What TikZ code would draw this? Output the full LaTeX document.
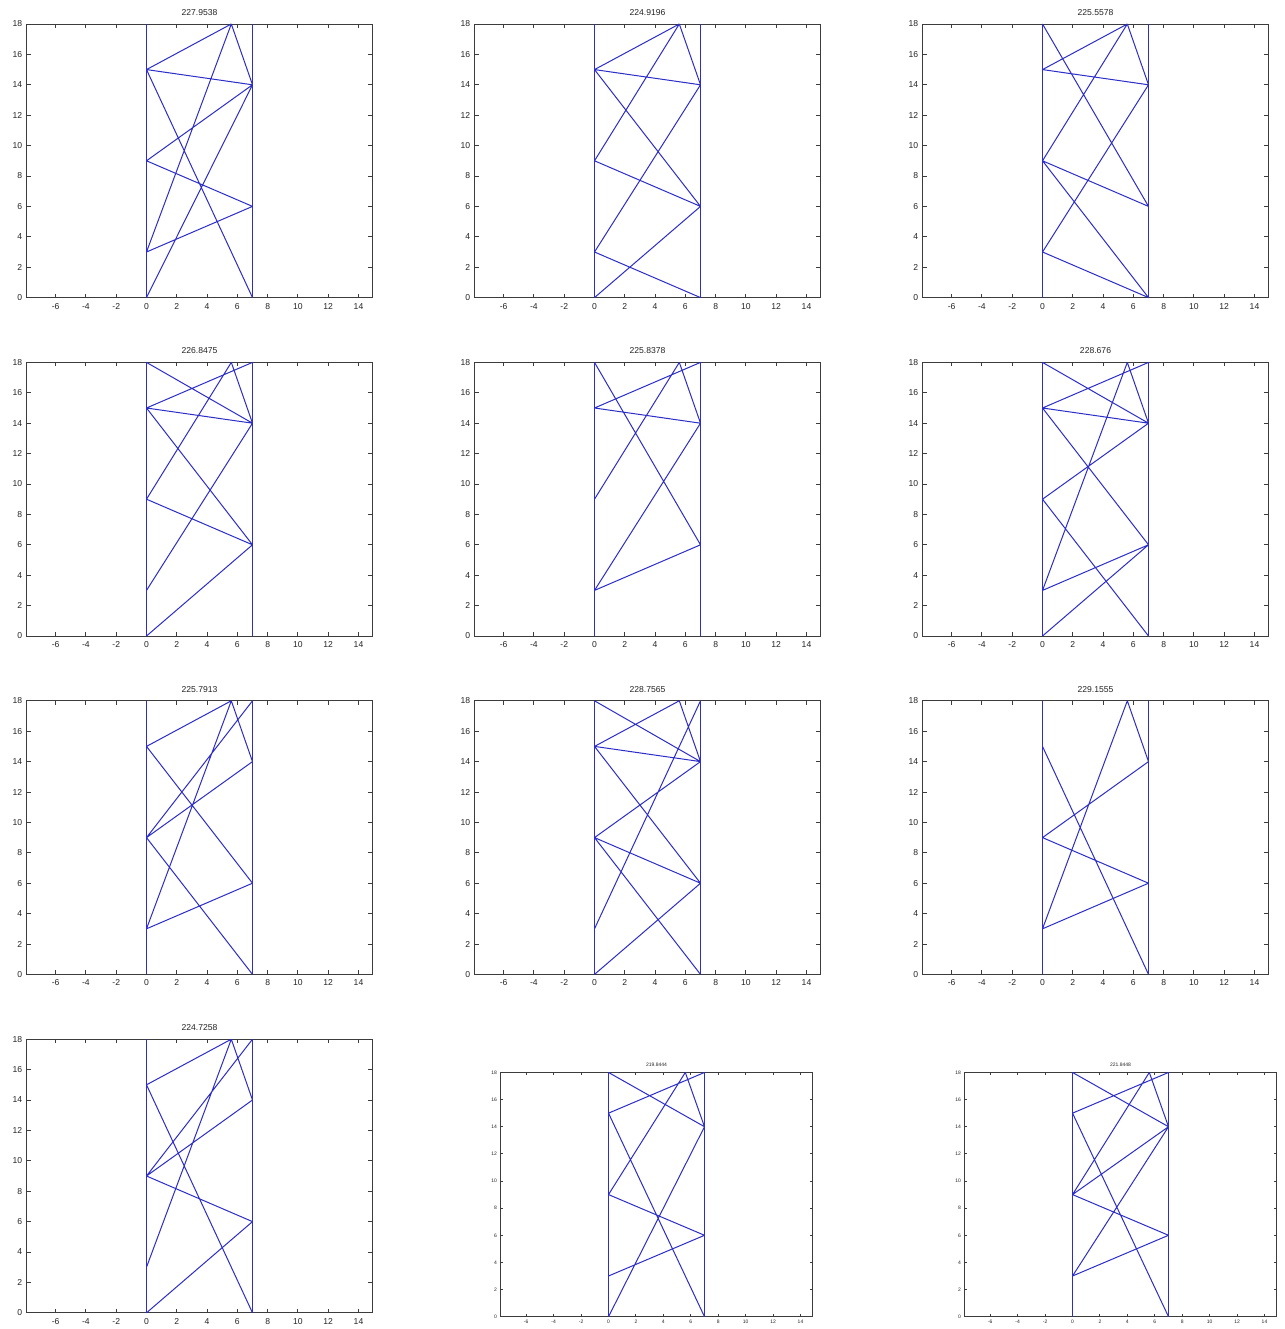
\documentclass[tikz,border=0pt]{standalone}
\usepackage{fontspec}
\setmainfont{Liberation Sans}
\definecolor{mem}{RGB}{45,45,200}
\definecolor{axc}{RGB}{60,60,60}
\tikzset{
  member/.style={draw=mem,line width=1pt},
  axbox/.style={draw=axc,line width=0.9pt},
  ticklab/.style={inner sep=0pt,text=black!85},
  bigax/.style={x=15.1429pt,y=15.2pt},
  smallax/.style={x=13.7143pt,y=13.57pt},
}
% #1 name, #2 x of data 0 (px), #3 y of data 0 (px), #4 axis scale style, #5 font size,
% #6 tick length, #7 label gap, #8 title, #9 members
\newcommand\trussplot[9]{%
\begin{scope}[shift={(#2pt,-#3pt)},#4,font=\fontsize{#5}{#5}\selectfont]
  \draw[axbox] (-7.9,0) rectangle (14.9,18);
  \foreach \v in {-6,-4,...,14}{
    \draw[axbox] (\v,0) -- ++(0,#6pt) (\v,18) -- ++(0,-#6pt);
    \node[ticklab,anchor=north,yshift=-#7pt] at (\v,0) {\v};
  }
  \foreach \v in {0,2,...,18}{
    \draw[axbox] (-7.9,\v) -- ++(#6pt,0) (14.9,\v) -- ++(-#6pt,0);
    \node[ticklab,anchor=east,xshift=-0.85*#7pt] at (-7.9,\v) {\v};
  }
  \coordinate (A0) at (0,0);   \coordinate (A3) at (0,3);
  \coordinate (A9) at (0,9);   \coordinate (A15) at (0,15);
  \coordinate (A18) at (0,18); \coordinate (B0) at (7,0);
  \coordinate (B6) at (7,6);   \coordinate (B14) at (7,14);
  \coordinate (B18) at (7,18); \coordinate (T) at (5.6,18);
  \draw[member] (A0) -- (A18) (B0) -- (B18);
  \draw[member] #9;
  \node[ticklab,anchor=base,yshift=1.6*#7pt] (#1) at (3.5,18) {#8};
\end{scope}}

\begin{document}
\begin{tikzpicture}[x=1pt,y=-1pt]
\useasboundingbox[fill=white] (0,0) rectangle (1284,1329);
% row 1
\trussplot{p1}{146.5}{297.6}{bigax}{8.6}{4}{5.3}{227.9538}
  {(A15)--(T) (A15)--(B14) (T)--(B14) (T)--(A3) (A15)--(B0) (A9)--(B14) (A9)--(B6) (A3)--(B6) (A0)--(B14)}
\trussplot{p2}{594.5}{297.6}{bigax}{8.6}{4}{5.3}{224.9196}
  {(A15)--(T) (A15)--(B14) (T)--(B14) (T)--(A9) (A15)--(B6) (A9)--(B6) (A3)--(B14) (A3)--(B0) (A0)--(B6)}
\trussplot{p3}{1042.5}{297.6}{bigax}{8.6}{4}{5.3}{225.5578}
  {(A18)--(B6) (A15)--(T) (A15)--(B14) (T)--(B14) (T)--(A9) (A9)--(B6) (A9)--(B0) (A3)--(B14) (A3)--(B0)}
% row 2
\trussplot{p4}{146.5}{636.0}{bigax}{8.6}{4}{5.3}{226.8475}
  {(A18)--(B14) (A15)--(B18) (T)--(B14) (A15)--(B14) (T)--(A9) (A15)--(B6) (A9)--(B6) (A3)--(B14) (A0)--(B6)}
\trussplot{p5}{594.5}{636.0}{bigax}{8.6}{4}{5.3}{225.8378}
  {(A18)--(B6) (A15)--(B18) (T)--(B14) (A15)--(B14) (T)--(A9) (A3)--(B14) (A3)--(B6)}
\trussplot{p6}{1042.5}{636.0}{bigax}{8.6}{4}{5.3}{228.676}
  {(A18)--(B14) (A15)--(B18) (T)--(B14) (A15)--(B14) (T)--(A3) (A9)--(B14) (A15)--(B6) (A9)--(B0) (A3)--(B6) (A0)--(B6)}
% row 3
\trussplot{p7}{146.5}{974.4}{bigax}{8.6}{4}{5.3}{225.7913}
  {(A15)--(T) (T)--(B14) (T)--(A3) (A9)--(B18) (A9)--(B14) (A15)--(B6) (A9)--(B0) (A3)--(B6)}
\trussplot{p8}{594.5}{974.4}{bigax}{8.6}{4}{5.3}{228.7565}
  {(A18)--(B14) (A15)--(T) (T)--(B14) (A15)--(B14) (A3)--(B18) (A15)--(B6) (A9)--(B14) (A9)--(B6) (A9)--(B0) (A0)--(B6)}
\trussplot{p9}{1042.5}{974.4}{bigax}{8.6}{4}{5.3}{229.1555}
  {(T)--(B14) (T)--(A3) (A15)--(B0) (A9)--(B14) (A9)--(B6) (A3)--(B6)}
% row 4
\trussplot{p10}{146.5}{1312.8}{bigax}{8.6}{4}{5.3}{224.7258}
  {(A15)--(T) (T)--(B14) (T)--(A3) (A9)--(B18) (A9)--(B14) (A15)--(B0) (A9)--(B6) (A0)--(B6)}
\trussplot{p11}{608.5}{1316.7}{smallax}{5}{3}{3.5}{219.8444}
  {(A18)--(B14) (A15)--(B18) (T)--(B14) (A15)--(B0) (T)--(A9) (A0)--(B14) (A9)--(B6) (A3)--(B6)}
\trussplot{p12}{1072.5}{1316.7}{smallax}{5}{3}{3.5}{221.8448}
  {(A18)--(B14) (A15)--(B18) (T)--(B14) (A15)--(B0) (T)--(A9) (A9)--(B14) (A3)--(B14) (A9)--(B6) (A3)--(B6)}
\end{tikzpicture}
\end{document}
